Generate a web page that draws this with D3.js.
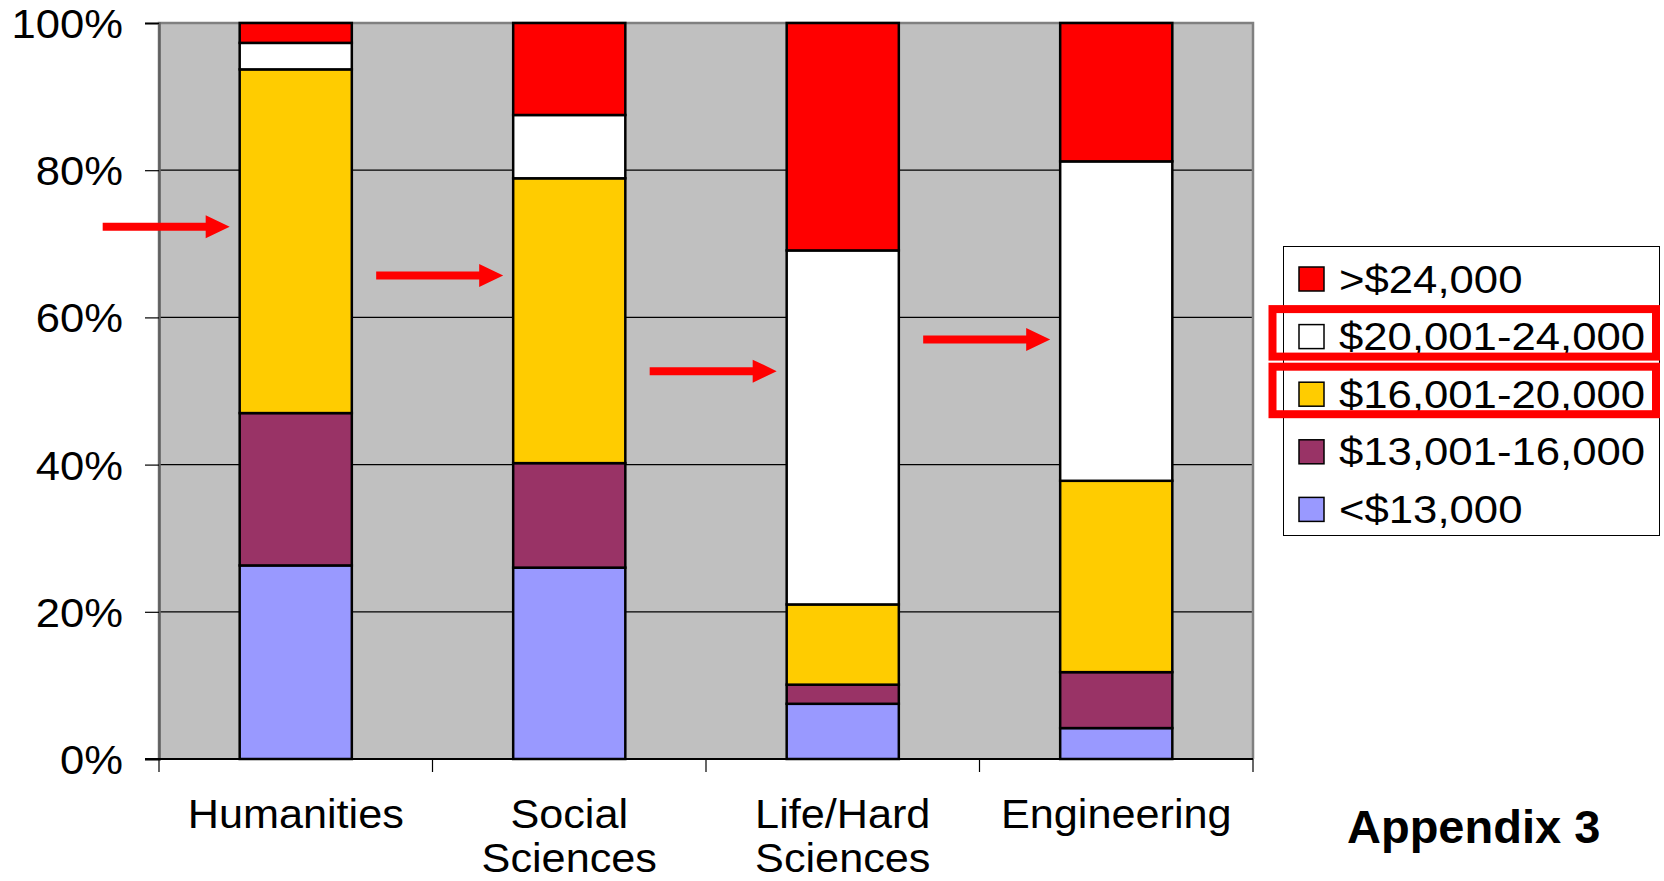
<!DOCTYPE html>
<html><head><meta charset="utf-8">
<script src="https://cdn.jsdelivr.net/npm/d3@7"></script>
<style>
html,body{margin:0;padding:0;background:#fff;}
svg{display:block;font-family:"Liberation Sans",Arial,sans-serif;}
</style></head>
<body>
<svg id="chart" width="1664" height="881"></svg>
<script>
// ---- data ----
const categories = ["Humanities", "Social Sciences", "Life/Hard Sciences", "Engineering"];
const categoryLines = [["Humanities"], ["Social", "Sciences"], ["Life/Hard", "Sciences"], ["Engineering"]];
const seriesNames = ["<$13,000", "$13,001-16,000", "$16,001-20,000", "$20,001-24,000", ">$24,000"];
const under13 = [26.3, 26.0, 7.5, 4.2];
const s13to16 = [20.7, 14.2, 2.6, 7.6];
const s16to20 = [46.7, 38.7, 10.9, 26.0];
const s20to24 = [3.6, 8.6, 48.1, 43.4];
const over24 = [2.7, 12.5, 30.9, 18.8];
const seriesColors = ["#9999FF", "#993366", "#FFCC00", "#FFFFFF", "#FF0000"];
const yTicks = [0, 0.2, 0.4, 0.6, 0.8, 1.0];
const arrowLevels = [72.3, 65.7, 52.7, 57.0]; // % height of annotation arrows
const highlighted = ["$20,001-24,000", "$16,001-20,000"];
const footnote = "Appendix 3";

// ---- layout ----
const svg = d3.select("#chart");
const pL = 159, pR = 1253, pT = 23, pB = 759;
const x = d3.scaleBand().domain(categories).range([pL, pR]).paddingInner(0.59).paddingOuter(0.295);
const y = d3.scaleLinear().domain([0, 1]).range([pB, pT]);

const allSeries = [under13, s13to16, s16to20, s20to24, over24];
const table = categories.map((c, i) => {
  const row = {category: c};
  seriesNames.forEach((s, j) => row[s] = allSeries[j][i]);
  return row;
});
const stacked = d3.stack().keys(seriesNames).offset(d3.stackOffsetExpand)(table);
const color = d3.scaleOrdinal().domain(seriesNames).range(seriesColors);

// plot background
svg.append("rect").attr("x", pL).attr("y", pT).attr("width", pR - pL).attr("height", pB - pT)
  .attr("fill", "#C0C0C0");

// gridlines
svg.append("g").selectAll("line").data(yTicks.slice(1)).join("line")
  .attr("x1", pL).attr("x2", pR).attr("y1", d => y(d)).attr("y2", d => y(d))
  .attr("stroke", "#000").attr("stroke-width", 1.2);

// plot border
svg.append("path").attr("d", `M${pL},${pB}V${pT}H${pR}V${pB}`)
  .attr("fill", "none").attr("stroke", "#808080").attr("stroke-width", 2.5);

// bars
svg.append("g").selectAll("g").data(stacked).join("g")
  .attr("fill", d => color(d.key))
  .selectAll("rect").data(d => d).join("rect")
  .attr("x", d => x(d.data.category))
  .attr("width", x.bandwidth())
  .attr("y", d => y(d[1]))
  .attr("height", d => y(d[0]) - y(d[1]))
  .attr("stroke", "#000").attr("stroke-width", 2.5);

// y axis
const yAxis = svg.append("g").attr("transform", `translate(${pL},0)`)
  .call(d3.axisLeft(y).tickValues(yTicks).tickFormat(d3.format(".0%")).tickSize(14).tickPadding(22));
yAxis.select(".domain").attr("stroke", "#606060").attr("stroke-width", 2.5);
yAxis.selectAll(".tick line").attr("stroke", "#000").attr("stroke-width", 1.2);
yAxis.selectAll(".tick text").attr("font-size", 40).attr("fill", "#000")
  .attr("font-family", "Liberation Sans, Arial, sans-serif")
  .attr("dy", "0.36em")
  .attr("transform", function() { const xx = +d3.select(this).attr("x"); return `translate(${xx},0) scale(1.09,1) translate(${-xx},0)`; });

// x axis (category boundary ticks)
const boundaries = d3.range(categories.length + 1).map(i => pL + i * x.step());
svg.append("line").attr("x1", pL - 14).attr("x2", pR).attr("y1", pB).attr("y2", pB)
  .attr("stroke", "#000").attr("stroke-width", 2);
svg.append("g").selectAll("line").data(boundaries).join("line")
  .attr("x1", d => d).attr("x2", d => d).attr("y1", pB).attr("y2", pB + 13)
  .attr("stroke", "#000").attr("stroke-width", 1.2);

// category labels
const catG = svg.append("g");
categories.forEach((c, i) => {
  const cx = x(c) + x.bandwidth() / 2;
  categoryLines[i].forEach((line, k) => {
    catG.append("text").attr("transform", `translate(${cx},${828 + k * 44}) scale(1.08,1)`)
      .attr("text-anchor", "middle").attr("font-size", 40).attr("fill", "#000").text(line);
  });
});

// annotation arrows
const arrowG = svg.append("g").attr("fill", "#FF0000");
categories.forEach((c, i) => {
  const tip = x(c) - 10, yy = y(arrowLevels[i] / 100);
  const start = tip - 127, headLen = 24, headH = 11.5, shaft = 4;
  arrowG.append("path").attr("d",
    `M${start},${yy - shaft}H${tip - headLen}V${yy - headH}L${tip},${yy}L${tip - headLen},${yy + headH}V${yy + shaft}H${start}Z`);
});

// legend
const lgX = 1283.5, lgY = 246.5, lgW = 376, lgH = 289;
svg.append("rect").attr("x", lgX).attr("y", lgY).attr("width", lgW).attr("height", lgH)
  .attr("fill", "#fff").attr("stroke", "#000").attr("stroke-width", 1);
const legendOrder = seriesNames.slice().reverse();
const rowY = i => 279 + i * 57.6;
const lg = svg.append("g").selectAll("g").data(legendOrder).join("g")
  .attr("transform", (d, i) => `translate(0,${rowY(i)})`);
lg.append("rect").attr("x", 1299).attr("y", -12).attr("width", 25).attr("height", 24)
  .attr("fill", d => color(d)).attr("stroke", "#000").attr("stroke-width", 1.5);
lg.append("text").attr("transform", "translate(1339,0) scale(1.15,1)").attr("dy", "0.36em")
  .attr("font-size", 38).attr("fill", "#000").text(d => d);

// highlight boxes around two legend entries
svg.append("g").selectAll("rect").data(highlighted).join("rect")
  .attr("x", 1272.5).attr("width", 1656 - 1272.5)
  .attr("y", d => rowY(legendOrder.indexOf(d)) - 27.5).attr("height", 47.5)
  .attr("fill", "none").attr("stroke", "#FF0000").attr("stroke-width", 8);

// footnote
svg.append("text").attr("x", 1347).attr("y", 843).attr("font-size", 47).attr("font-weight", "bold")
  .attr("fill", "#000").text(footnote);
</script>
</body></html>
